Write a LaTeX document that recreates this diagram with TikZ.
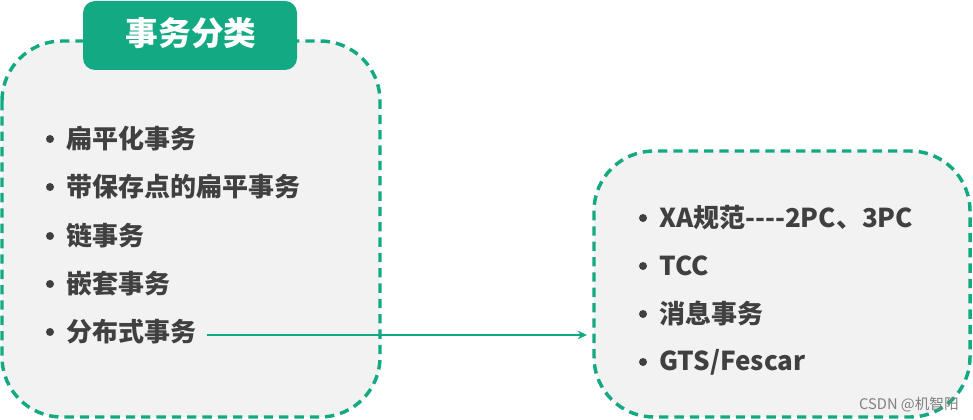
\documentclass[tikz,border=0pt]{standalone}
\usepackage{fontspec}
\setmainfont{Noto Sans CJK SC}
\usetikzlibrary{arrows.meta}
\definecolor{tealgreen}{HTML}{13A983}
\definecolor{boxgray}{HTML}{F2F2F2}
\definecolor{itemgray}{HTML}{404040}
\tikzset{
  groupbox/.style={draw=tealgreen, fill=boxgray, line width=2.6pt, dash pattern=on 7pt off 4.5pt, rounded corners=45pt},
  item/.style={anchor=west, inner sep=0pt, text=itemgray, font=\fontsize{19.5}{22}\selectfont\bfseries},
  dot/.style={fill=itemgray, circle, inner sep=0pt, minimum size=6pt}
}

\begin{document}
\begin{tikzpicture}[x=0.75pt, y=-0.75pt]
\useasboundingbox ( 0 , 0 ) rectangle ( 973 , 420 );
% two groups
\draw[groupbox] ( 2 , 41 ) rectangle ( 380 , 417 );
\draw[groupbox] ( 594 , 151 ) rectangle ( 970 , 417 );
% title
\fill[tealgreen, rounded corners=9pt] ( 83 , 1 ) rectangle ( 297 , 70 );
\node[text=white, font=\fontsize{24.5}{28}\selectfont\bfseries] (title) at ( 191 , 33 ){事务分类};
% left items
\node[dot] at ( 50 , 139 ){};
\node[item] (flat) at ( 66 , 139 ){扁平化事务};
\node[dot] at ( 50 , 187 ){};
\node[item] (savepoint) at ( 66 , 187 ){带保存点的扁平事务};
\node[dot] at ( 50 , 236 ){};
\node[item] (chain) at ( 66 , 236 ){链事务};
\node[dot] at ( 50 , 284 ){};
\node[item] (nested) at ( 66 , 284 ){嵌套事务};
\node[dot] at ( 50 , 332 ){};
\node[item] (dist) at ( 66 , 332 ){分布式事务};
% right items
\node[dot] at ( 643 , 218 ){};
\node[item] (xa) at ( 659 , 218 ){XA规范{-}{-}{-}{-}2PC、3PC};
\node[dot] at ( 643 , 266 ){};
\node[item] (tcc) at ( 659 , 266 ){TCC};
\node[dot] at ( 643 , 314 ){};
\node[item] (msg) at ( 659 , 314 ){消息事务};
\node[dot] at ( 643 , 362 ){};
\node[item] (gts) at ( 659 , 362 ){GTS/Fescar};
% link
\coordinate (tip) at ( 587 , 335 );
\coordinate (tail) at ( 207 , 335 );
\draw[tealgreen, line width=2pt, -{Stealth[length=7pt, width=6.5pt]}] (tail) -- (tip);
% watermark
\node[text=gray, font=\fontsize{11}{12}\selectfont] (mark) at ( 909 , 405 ){CSDN @机智阳};
\end{tikzpicture}
\end{document}
